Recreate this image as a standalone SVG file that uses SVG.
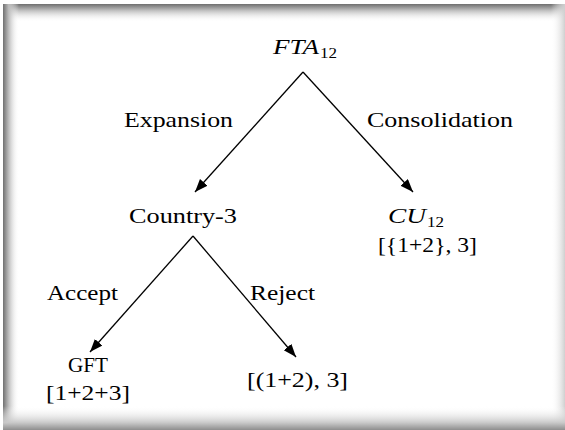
<svg xmlns="http://www.w3.org/2000/svg" width="565" height="430" viewBox="0 0 565 430">
<defs>
<linearGradient id="gTop" x1="0" y1="0" x2="0" y2="1"><stop offset="0" stop-color="#6e6e6e"/><stop offset="0.35" stop-color="#bdbdbd"/><stop offset="1" stop-color="#ffffff" stop-opacity="0"/></linearGradient>
<linearGradient id="gLeft" x1="0" y1="0" x2="1" y2="0"><stop offset="0" stop-color="#707070"/><stop offset="0.35" stop-color="#bcbcbc"/><stop offset="1" stop-color="#ffffff" stop-opacity="0"/></linearGradient>
<linearGradient id="gRight" x1="1" y1="0" x2="0" y2="0"><stop offset="0" stop-color="#cfcfcf"/><stop offset="1" stop-color="#ffffff" stop-opacity="0"/></linearGradient>
<linearGradient id="gBottom" x1="0" y1="1" x2="0" y2="0"><stop offset="0" stop-color="#8e8e8e"/><stop offset="0.3" stop-color="#c8c8c8"/><stop offset="1" stop-color="#ffffff" stop-opacity="0"/></linearGradient>
<marker id="arrow" markerUnits="userSpaceOnUse" markerWidth="14" markerHeight="11" refX="13" refY="5" orient="auto"><path d="M0,0 L13,5 L0,10 z" fill="#000"/></marker>
</defs>
<style>
.t{font-family:"Liberation Serif","Times New Roman",serif;font-size:21px;fill:#000;}
.m{font-family:"Liberation Serif","Times New Roman",serif;font-size:21px;font-style:italic;fill:#000;}
.s{font-family:"Liberation Serif","Times New Roman",serif;font-size:15px;fill:#000;}
.c{stroke:#000;stroke-width:1.3;fill:none;marker-end:url(#arrow);}
</style>
<rect x="0" y="0" width="565" height="430" fill="#fff"/>
<g id="frame">
<rect x="3" y="4" width="562" height="18" fill="url(#gTop)"/>
<rect x="3" y="4" width="16" height="426" fill="url(#gLeft)"/>
<rect x="551" y="4" width="14" height="426" fill="url(#gRight)"/>
<rect x="3" y="406" width="562" height="24" fill="url(#gBottom)"/>
</g>
<g id="connectors">
<line class="c" x1="303" y1="72" x2="195" y2="192"/>
<line class="c" x1="303" y1="72" x2="413" y2="192"/>
<line class="c" x1="193" y1="236" x2="90" y2="352"/>
<line class="c" x1="193" y1="236" x2="296" y2="357"/>
</g>
<g id="labels">
<text class="t" x="124" y="127" textLength="109" lengthAdjust="spacingAndGlyphs">Expansion</text>
<text class="t" x="367" y="127" textLength="146" lengthAdjust="spacingAndGlyphs">Consolidation</text>
<text class="t" x="47" y="300" textLength="71" lengthAdjust="spacingAndGlyphs">Accept</text>
<text class="t" x="250" y="300" textLength="65" lengthAdjust="spacingAndGlyphs">Reject</text>
</g>
<g id="node-fta">
<text class="m" x="273" y="54" textLength="46" lengthAdjust="spacingAndGlyphs">FTA</text>
<text class="s" x="320" y="58" textLength="17" lengthAdjust="spacingAndGlyphs">12</text>
</g>
<g id="node-country3">
<text class="t" x="129" y="223" textLength="108" lengthAdjust="spacingAndGlyphs">Country-3</text>
</g>
<g id="node-cu">
<text class="m" x="388" y="223" textLength="38" lengthAdjust="spacingAndGlyphs">CU</text>
<text class="s" x="427" y="227" textLength="17" lengthAdjust="spacingAndGlyphs">12</text>
<text class="t" x="378" y="252" textLength="99" lengthAdjust="spacingAndGlyphs">[{1+2}, 3]</text>
</g>
<g id="node-gft">
<text class="t" x="68" y="372" textLength="40" lengthAdjust="spacingAndGlyphs">GFT</text>
<text class="t" x="46" y="400" textLength="84" lengthAdjust="spacingAndGlyphs">[1+2+3]</text>
</g>
<g id="node-reject">
<text class="t" x="247" y="387" textLength="101" lengthAdjust="spacingAndGlyphs">[(1+2), 3]</text>
</g>
</svg>
